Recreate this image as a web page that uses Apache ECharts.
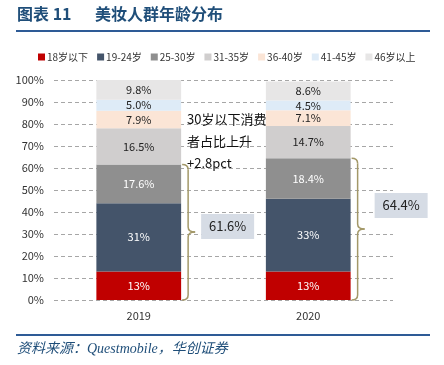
<!DOCTYPE html>
<html>
<head>
<meta charset="utf-8">
<script src="https://cdn.jsdelivr.net/npm/echarts@6/dist/echarts.min.js"></script>
<style>
  html, body { margin: 0; padding: 0; background: #fff; }
  #main { width: 444px; height: 365px; }
</style>
</head>
<body>
<div id="main"></div>
<script>
// 数据
var years = ['2019', '2020'];
var ageGroups = ['18岁以下', '19-24岁', '25-30岁', '31-35岁', '36-40岁', '41-45岁', '46岁以上'];
var share2019 = [13, 31, 17.6, 16.5, 7.9, 5.0, 9.8];
var share2020 = [13, 33, 18.4, 14.7, 7.1, 4.5, 8.6];
var under30 = ['61.6%', '64.4%'];
var yTicks = [0, 10, 20, 30, 40, 50, 60, 70, 80, 90, 100];

var colors = ['#C00000', '#44546A', '#8F8F8F', '#D0CECE', '#FBE5D6', '#DEEBF7', '#E7E6E6'];
var labelColors = ['#fff', '#fff', '#fff', '#222', '#222', '#222', '#222'];
var FONT = 'Noto Sans CJK SC';

var myChart = echarts.init(document.getElementById('main'));

var series = ageGroups.map(function (name, i) {
	return {
		name: name,
		type: 'bar',
		stack: 'total',
		barWidth: '50%',
		data: [share2019[i], share2020[i]],
		itemStyle: { color: colors[i] },
		label: {
			show: true,
			position: 'inside',
			color: labelColors[i],
			fontSize: 11,
			fontFamily: FONT,
			formatter: function (p) {
				return (i < 2 ? p.value.toFixed(0) : p.value.toFixed(1)) + '%';
			}
		}
	};
});

var option = {
	animation: false,
	textStyle: { fontFamily: FONT },
	legend: {
		top: 47,
		left: 33,
		width: 410,
		itemWidth: 7,
		itemHeight: 7,
		itemGap: 9,
		icon: 'rect',
		textStyle: { fontSize: 10, color: '#333', padding: [0, 0, 0, -3] },
		data: ageGroups
	},
	grid: {
		left: 54,
		right: 51,
		top: 80,
		bottom: 65
	},
	xAxis: {
		type: 'category',
		data: years,
		axisLine: { show: false },
		axisTick: { show: false },
		axisLabel: { color: '#333', fontSize: 11, margin: 10 }
	},
	yAxis: {
		type: 'value',
		min: yTicks[0],
		max: yTicks[yTicks.length - 1],
		interval: 10,
		axisLabel: { color: '#333', fontSize: 11, formatter: '{value}%', margin: 10 },
		splitLine: { lineStyle: { color: '#A6A6A6', type: [4, 3] } }
	},
	series: series
};

myChart.setOption(option);

// 注释（花括号、文本框）
function brace(x0, yTop, yBot, yMid) {
	var x1 = x0 + 6, xt = x0 + 13, r = 5;
	var st = { fill: null, stroke: '#A39868', lineWidth: 1.5 };
	return [
		{ type: 'bezierCurve', shape: { x1: x0, y1: yTop, cpx1: x1, cpy1: yTop, x2: x1, y2: yTop + r }, style: st },
		{ type: 'line', shape: { x1: x1, y1: yTop + r, x2: x1, y2: yMid - r }, style: st },
		{ type: 'bezierCurve', shape: { x1: x1, y1: yMid - r, cpx1: x1, cpy1: yMid, x2: xt, y2: yMid }, style: st },
		{ type: 'bezierCurve', shape: { x1: xt, y1: yMid, cpx1: x1, cpy1: yMid, x2: x1, y2: yMid + r }, style: st },
		{ type: 'line', shape: { x1: x1, y1: yMid + r, x2: x1, y2: yBot - r }, style: st },
		{ type: 'bezierCurve', shape: { x1: x1, y1: yBot - r, cpx1: x1, cpy1: yBot, x2: x0, y2: yBot }, style: st }
	];
}

var graphics = [];
var sums = [share2019, share2020].map(function (arr) { return arr[0] + arr[1] + arr[2]; });
var half = (myChart.convertToPixel({ xAxisIndex: 0 }, years[1]) - myChart.convertToPixel({ xAxisIndex: 0 }, years[0])) * 0.25;
years.forEach(function (yr, k) {
	var cx = myChart.convertToPixel({ xAxisIndex: 0 }, yr);
	var x0 = cx + half + 1;
	var yTop = myChart.convertToPixel({ yAxisIndex: 0 }, sums[k]);
	var yBot = myChart.convertToPixel({ yAxisIndex: 0 }, 0);
	var yMid = Math.round((yTop + yBot) / 2);
	graphics = graphics.concat(brace(x0, yTop, yBot, yMid));
	var bx = k === 0 ? x0 + 19 : x0 + 23;
	var by = k === 0 ? yMid - 18 : yMid - 36;
	graphics.push({
		type: 'rect',
		shape: { x: bx, y: by, width: 53, height: 25 },
		style: { fill: '#D6DCE5' }
	});
	graphics.push({
		type: 'text',
		x: bx + 26.5, y: by + 12.5,
		style: { text: under30[k], fill: '#222', fontSize: 13, fontFamily: FONT, align: 'center', verticalAlign: 'middle' }
	});
});

// 标题、分隔线、来源
graphics.push(
	{
		type: 'text', left: 17, top: 6,
		style: { text: '图表 11', fill: '#1F4E79', fontSize: 16, fontWeight: 'bold', fontFamily: FONT }
	},
	{
		type: 'text', left: 95, top: 6,
		style: { text: '美妆人群年龄分布', fill: '#1F4E79', fontSize: 16, fontWeight: 'bold', fontFamily: FONT }
	},
	{
		type: 'line', shape: { x1: 16, y1: 31, x2: 430, y2: 31 },
		style: { stroke: '#2E5B96', lineWidth: 2 }
	},
	{
		type: 'line', shape: { x1: 16, y1: 335, x2: 430, y2: 335 },
		style: { stroke: '#2E5B96', lineWidth: 2 }
	},
	{
		type: 'text', left: 17, top: 342,
		style: { text: '资料来源：Questmobile，华创证券', fill: '#1F4E79', fontSize: 14, fontStyle: 'italic', fontFamily: '"Liberation Serif", ' + FONT }
	},
	{
		type: 'text', left: 187, top: 108,
		style: { text: '30岁以下消费\n者占比上升\n+2.8pct', fill: '#111', fontSize: 13, lineHeight: 22, fontFamily: FONT }
	}
);

myChart.setOption({ graphic: graphics });
</script>
</body>
</html>
